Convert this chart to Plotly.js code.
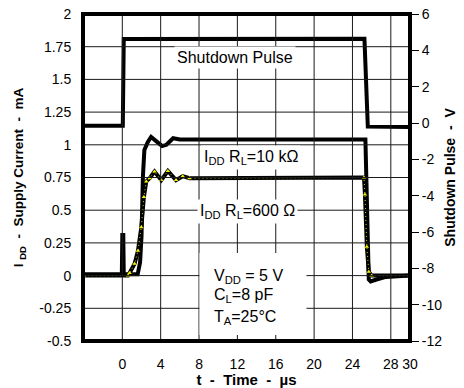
<!DOCTYPE html>
<html>
<head>
<meta charset="utf-8">
<script src="https://cdn.plot.ly/plotly-3.0.1.min.js"></script>
<style>html,body{margin:0;padding:0;background:#fff;}</style>
</head>
<body>
<div id="chart" style="width:464px;height:388px;"></div>
<script>
// Shutdown pulse (right axis, V)
const tPulse = [-4, 0.05, 0.15, 25.25, 25.6, 30];
const vPulse = [-0.15, -0.15, 4.63, 4.64, -0.2, -0.22];

// IDD with RL = 10 kOhm (left axis, mA)
const t10k = [-4, -0.05, 0.0, 0.1, 0.15, 1.6, 1.85, 2.0, 2.15, 2.3, 2.65, 3.0, 3.5, 4.15, 4.6, 4.9, 5.3, 6, 12, 20, 25.35, 25.7, 25.9, 26.5, 27.5, 30];
const i10k = [0.01, 0.01, 0.31, 0.31, 0.01, 0.01, 0.1, 0.3, 0.76, 0.96, 1.02, 1.06, 1.03, 0.99, 1.0, 1.02, 1.05, 1.04, 1.04, 1.04, 1.04, -0.03, -0.045, -0.03, -0.01, 0.0];

// IDD with RL = 600 Ohm (left axis, mA)
const t600 = [-4, 0.6, 0.76, 1.28, 1.63, 1.98, 2.25, 2.5, 2.85, 3.36, 4.06, 4.75, 5.6, 6.3, 7, 25.2, 25.3, 25.5, 25.7, 26, 30];
const i600 = [0.0, 0.0, 0.02, 0.09, 0.19, 0.37, 0.6, 0.72, 0.745, 0.795, 0.73, 0.8, 0.73, 0.76, 0.745, 0.75, 0.62, 0.22, 0.03, 0.0, 0.0];

// Tick labels
const xTickVals = [0, 4, 8, 12, 16, 20, 24, 28, 30];
const xTickText = ['0', '4', '8', '12', '16', '20', '24', '28', '30'];
const yTickVals = [-0.5, -0.25, 0, 0.25, 0.5, 0.75, 1, 1.25, 1.5, 1.75, 2];
const yTickText = ['-0.5', '-0.25', '0', '0.25', '0.5', '0.75', '1', '1.25', '1.5', '1.75', '2'];
const y2TickVals = [-12, -10, -8, -6, -4, -2, 0, 2, 4, 6];
const y2TickText = ['-12', '-10', '-8', '-6', '-4', '-2', '0', '2', '4', '6'];

const FONT = 'Arial, Liberation Sans, sans-serif';
const GRID = '#1a1a1a';

const traces = [
  {x: tPulse, y: vPulse, yaxis: 'y2', mode: 'lines', line: {color: '#000', width: 4}, hoverinfo: 'skip'},
  {x: t600, y: i600, mode: 'lines', line: {color: '#000', width: 4}, hoverinfo: 'skip'},
  {x: t10k, y: i10k, mode: 'lines', line: {color: '#000', width: 4}, hoverinfo: 'skip'},
  {x: t600, y: i600, mode: 'lines+markers', line: {color: '#d4d400', width: 1, dash: '1px,3px'},
   marker: {symbol: 'triangle-up', size: 4, color: '#f0f000'}, hoverinfo: 'skip'}
];

// grid lines placed on the axes' own tick values
const gridShapes = xTickVals.map(v => ({type: 'line', xref: 'x', yref: 'paper', x0: v, x1: v, y0: 0, y1: 1,
    line: {color: GRID, width: 1}, layer: 'above'}))
  .concat(yTickVals.map(v => ({type: 'line', xref: 'paper', yref: 'y', x0: 0, x1: 1, y0: v, y1: v,
    line: {color: GRID, width: 1}, layer: 'above'})));

const layout = {
  width: 464, height: 388,
  margin: {l: 83, r: 54, t: 14, b: 47},
  showlegend: false,
  font: {family: FONT, size: 14, color: '#000'},
  xaxis: {
    range: [-4.1, 30], tickvals: xTickVals, ticktext: xTickText,
    showgrid: false, zeroline: false,
    ticks: 'outside', ticklen: 10, tickcolor: 'rgba(0,0,0,0)',
    tickfont: {family: FONT, size: 14, color: '#000'},
    title: {text: '<b>t  -  Time  -  µs</b>', font: {family: FONT, size: 15, color: '#000'}}
  },
  yaxis: {
    range: [-0.5, 2], tickvals: yTickVals, ticktext: yTickText,
    showgrid: false, zeroline: false,
    ticks: 'outside', ticklen: 8, tickcolor: 'rgba(0,0,0,0)',
    tickfont: {family: FONT, size: 14, color: '#000'},
    title: {text: '<b>I <sub>DD</sub>  -  Supply Current  -  mA</b>', font: {family: FONT, size: 13.5, color: '#000'}, standoff: 12}
  },
  yaxis2: {
    overlaying: 'y', side: 'right',
    range: [-12, 6], tickvals: y2TickVals, ticktext: y2TickText,
    showgrid: false, zeroline: false,
    ticks: 'outside', ticklen: 8, tickwidth: 1, tickcolor: '#000',
    tickfont: {family: FONT, size: 14, color: '#000'},
    title: {text: '<b>Shutdown Pulse  -  V</b>', font: {family: FONT, size: 14, color: '#000'}}
  },
  shapes: gridShapes.concat([
    {type: 'rect', xref: 'x', yref: 'y', x0: 8.05, x1: 19.2, y0: -0.455, y1: 0.173,
     fillcolor: '#fff', line: {width: 0}, layer: 'above'},
    {type: 'rect', xref: 'paper', yref: 'paper', x0: 0, x1: 1, y0: 0, y1: 1,
     fillcolor: 'rgba(0,0,0,0)', line: {color: '#000', width: 4}, layer: 'above'}
  ]),
  annotations: [
    {x: 11.8, y: 1.665, xref: 'x', yref: 'y', text: 'Shutdown Pulse', showarrow: false,
     bgcolor: '#fff', borderpad: 2, font: {family: FONT, size: 16, color: '#000'}},
    {x: 13.4, y: 0.9, xref: 'x', yref: 'y', text: 'I<sub>DD</sub> R<sub>L</sub>=10 kΩ', showarrow: false,
     bgcolor: '#fff', borderpad: 2, font: {family: FONT, size: 16, color: '#000'}},
    {x: 13.1, y: 0.49, xref: 'x', yref: 'y', text: 'I<sub>DD</sub> R<sub>L</sub>=600 Ω', showarrow: false,
     bgcolor: '#fff', borderpad: 2, font: {family: FONT, size: 16, color: '#000'}},
    {x: 9.4, y: -0.01, xref: 'x', yref: 'y', xanchor: 'left', text: 'V<sub>DD</sub> = 5 V', showarrow: false,
     font: {family: FONT, size: 16, color: '#000'}},
    {x: 9.4, y: -0.155, xref: 'x', yref: 'y', xanchor: 'left', text: 'C<sub>L</sub>=8 pF', showarrow: false,
     font: {family: FONT, size: 16, color: '#000'}},
    {x: 9.4, y: -0.32, xref: 'x', yref: 'y', xanchor: 'left', text: 'T<sub>A</sub>=25°C', showarrow: false,
     font: {family: FONT, size: 16, color: '#000'}}
  ]
};

Plotly.newPlot('chart', traces, layout, {staticPlot: true, displayModeBar: false});
</script>
</body>
</html>
